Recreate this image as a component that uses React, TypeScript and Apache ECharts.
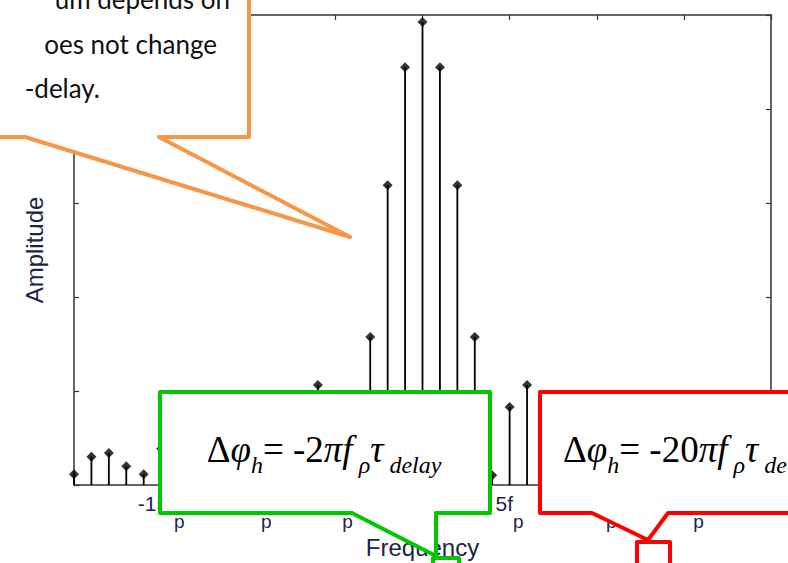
import React, { useEffect, useRef } from "react";
import * as echarts from "echarts";

// Harmonic index k (frequency = k * f_p)
const harmonics = [
  -20, -19, -18, -17, -16, -15, -14, -13, -12, -11, -10, -9, -8, -7, -6, -5, -4, -3, -2, -1, 0,
  1, 2, 3, 4, 5, 6, 7, 8, 9, 10, 11, 12, 13, 14, 15, 16, 17, 18, 19, 20,
];
const amplitudes = [
  0.023, 0.06, 0.068, 0.04, 0.023, 0.077, 0.11, 0.09, 0.023, 0.1, 0.14, 0.12, 0.023, 0.15, 0.213,
  0.17, 0.022, 0.315, 0.638, 0.889, 0.985, 0.889, 0.638, 0.315, 0.021, 0.166, 0.213, 0.15, 0.023,
  0.12, 0.14, 0.1, 0.023, 0.09, 0.11, 0.077, 0.023, 0.04, 0.068, 0.06, 0.023,
];
const xTickValues = [-20, -15, -10, -5, 0, 5, 10, 15, 20];
const xTickLabels = ["", "-15f", "-10f", "-5f", "0", "5f", "10f", "15f", ""];
const xAxisName = "Frequency";
const yAxisName = "Amplitude";
const orangeLines = ["um depends on", "oes not change", "-delay."];

const AXIS_COLOR = "#333333";
const LABEL_COLOR = "#22224a";

export default function App() {
  const ref = useRef<HTMLDivElement>(null);
  useEffect(() => {
    if (!ref.current) return;
    const chart = echarts.init(ref.current, undefined, { renderer: "svg" });
    const data = harmonics.map((h, i) => [h, amplitudes[i]]);

    const formulaRich = {
      n: { fontFamily: "Liberation Serif", fontSize: 37, color: "#000", lineHeight: 42, verticalAlign: "top" },
      i: { fontFamily: "Liberation Serif", fontStyle: "italic", fontSize: 37, color: "#000", lineHeight: 42, verticalAlign: "top" },
      s: { fontFamily: "Liberation Serif", fontStyle: "italic", fontSize: 24, color: "#000", lineHeight: 46, verticalAlign: "bottom" },
    };
    const formula = (coef: string) =>
      `{n|Δ}{i|φ}{s|h}{n|= -${coef}}{i|πf}{s| ρ}{i|τ}{s| delay}`;

    const calloutStyle = (stroke: string) => ({
      fill: "#ffffff",
      stroke,
      lineWidth: 4,
      lineJoin: "round",
    });

    chart.setOption({
      animation: false,
      grid: { left: 74, right: 17, top: 15, bottom: 78, outerBoundsMode: "none", containLabel: false },
      xAxis: [
        {
          type: "value",
          min: -20,
          max: 20,
          interval: 5,
          position: "bottom",
          axisLine: { show: true, onZero: false, lineStyle: { color: AXIS_COLOR, width: 1.5 } },
          axisTick: { show: true, inside: true, length: 5, lineStyle: { color: AXIS_COLOR, width: 1.2 } },
          splitLine: { show: false },
          axisLabel: {
            margin: 8,
            formatter: (v: number) => {
              const idx = xTickValues.indexOf(v);
              const t = idx >= 0 ? xTickLabels[idx] : "";
              if (!t) return "";
              if (t === "0") return `{a|0}`;
              return `{a|${t}}{b|p}`;
            },
            rich: {
              a: { fontFamily: "Liberation Sans", fontSize: 21, color: LABEL_COLOR, lineHeight: 24, verticalAlign: "top" },
              b: { fontFamily: "Liberation Sans", fontSize: 19, color: LABEL_COLOR, lineHeight: 38, verticalAlign: "bottom" },
            },
          },
          name: xAxisName,
          nameLocation: "middle",
          nameGap: 40,
          nameTextStyle: { fontFamily: "Liberation Sans", fontSize: 24, color: LABEL_COLOR },
        },
        {
          type: "value",
          min: -20,
          max: 20,
          interval: 5,
          position: "top",
          axisLine: { show: true, onZero: false, lineStyle: { color: AXIS_COLOR, width: 1.5 } },
          axisTick: { show: true, inside: true, length: 5, lineStyle: { color: AXIS_COLOR, width: 1.2 } },
          axisLabel: { show: false },
          splitLine: { show: false },
        },
      ],
      yAxis: [
        {
          type: "value",
          min: 0,
          max: 1,
          interval: 0.2,
          position: "left",
          axisLine: { show: true, onZero: false, lineStyle: { color: AXIS_COLOR, width: 1.5 } },
          axisTick: { show: true, inside: true, length: 5, lineStyle: { color: AXIS_COLOR, width: 1.2 } },
          axisLabel: { show: false },
          splitLine: { show: false },
          name: yAxisName,
          nameLocation: "middle",
          nameGap: 28,
          nameTextStyle: { fontFamily: "Liberation Sans", fontSize: 24, color: LABEL_COLOR },
        },
        {
          type: "value",
          min: 0,
          max: 1,
          interval: 0.2,
          position: "right",
          axisLine: { show: true, onZero: false, lineStyle: { color: AXIS_COLOR, width: 1.5 } },
          axisTick: { show: true, inside: true, length: 5, lineStyle: { color: AXIS_COLOR, width: 1.2 } },
          axisLabel: { show: false },
          splitLine: { show: false },
        },
      ],
      series: [
        {
          type: "custom",
          xAxisIndex: 0,
          yAxisIndex: 0,
          encode: { x: 0, y: 1 },
          data,
          z: 3,
          renderItem: (_params: any, api: any) => {
            const x = api.value(0);
            const y = api.value(1);
            const p0 = api.coord([x, 0]);
            const p1 = api.coord([x, y]);
            return {
              type: "line",
              shape: { x1: p0[0], y1: p0[1], x2: p1[0], y2: p1[1] },
              style: { stroke: "#000", lineWidth: 1.8 },
            };
          },
        },
        {
          type: "scatter",
          xAxisIndex: 0,
          yAxisIndex: 0,
          symbol: "diamond",
          symbolSize: [10, 10],
          itemStyle: { color: "#000" },
          data,
          z: 4,
        },
      ],
      graphic: [
        // orange callout (top-left)
        {
          type: "polygon",
          z: 100,
          shape: { points: [[-10, -10], [249, -10], [249, 137], [159, 137], [350, 237], [25, 137], [-10, 137]] },
          style: calloutStyle("#F79646"),
        },
        ...orangeLines.map((t, i) => ({
          type: "text",
          z: 101,
          x: [230, 217, 100][i],
          y: [-1, 44, 88][i],
          style: {
            text: t,
            font: '26px "Lato"',
            fill: "#111",
            textAlign: "right",
            textVerticalAlign: "middle",
          },
        })),
        // green callout
        {
          type: "polygon",
          z: 102,
          shape: { points: [[160, 392], [490, 392], [490, 513], [436, 513], [436, 556], [352, 513], [160, 513]] },
          style: calloutStyle("#00C800"),
        },
        {
          type: "rect",
          z: 102,
          shape: { x: 433, y: 558, width: 26, height: 30 },
          style: calloutStyle("#00C800"),
        },
        {
          type: "text",
          z: 103,
          x: 324,
          y: 431,
          style: { text: formula("2"), rich: formulaRich, textAlign: "center", textVerticalAlign: "top" },
        },
        // red callout
        {
          type: "polygon",
          z: 104,
          shape: { points: [[540, 392], [800, 392], [800, 513], [668, 513], [648, 540], [592, 513], [540, 513]] },
          style: calloutStyle("#FF0000"),
        },
        {
          type: "rect",
          z: 104,
          shape: { x: 637, y: 542, width: 33, height: 40 },
          style: calloutStyle("#FF0000"),
        },
        {
          type: "text",
          z: 105,
          x: 563,
          y: 431,
          style: { text: formula("20"), rich: formulaRich, textAlign: "left", textVerticalAlign: "top" },
        },
      ],
    });
    return () => chart.dispose();
  }, []);
  return (
    <div
      ref={ref}
      style={{ position: "fixed", left: 0, top: 0, width: 788, height: 563, background: "#fff" }}
    />
  );
}
